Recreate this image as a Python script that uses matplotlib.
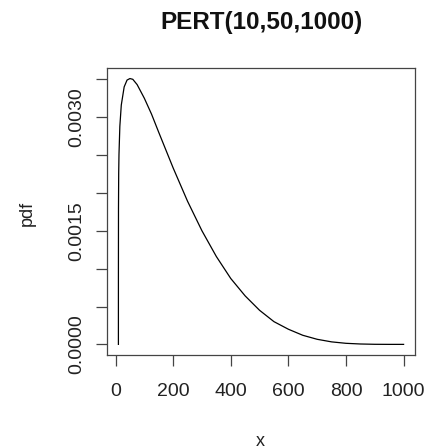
import matplotlib
matplotlib.use("Agg")
import matplotlib.pyplot as plt

plt.rcParams['font.family'] = ['Liberation Sans', 'DejaVu Sans']

# values
x_vals = [10, 10.05, 10.3, 11, 12, 15, 20, 30, 40, 50, 60, 75, 100, 125, 150,
          200, 250, 300, 350, 400, 450, 500, 550, 600, 650, 700, 750, 800,
          850, 900, 950, 1000]
pdf_vals = [0.0, 0.0009, 0.0018, 0.00226, 0.00251, 0.00288, 0.00316, 0.00340,
            0.00349, 0.00351, 0.00350, 0.00343, 0.00325, 0.00304, 0.00280,
            0.00233, 0.00189, 0.00150, 0.00116, 0.00087, 0.00064, 0.00045,
            0.00030, 0.00020, 0.00012, 0.000067, 0.000033, 0.000014,
            0.000005, 0.000001, 0.0, 0.0]

x_ticks = [0, 200, 400, 600, 800, 1000]
x_ticklabels = ["0", "200", "400", "600", "800", "1000"]
y_ticks = [0.0, 0.0005, 0.0010, 0.0015, 0.0020, 0.0025, 0.0030, 0.0035]
y_ticklabels = ["0.0000", "", "", "0.0015", "", "", "0.0030", ""]

title = "PERT(10,50,1000)"

W, H = 426, 448
fig = plt.figure(figsize=(W / 100, H / 100), dpi=100)
L, R, T, B = 107, 415, 68, 355
ax = fig.add_axes([L / W, 1 - B / H, (R - L) / W, (B - T) / H])

ax.plot(x_vals, pdf_vals, color='black', lw=0.9)

xr = 1000 - 10
ax.set_xlim(10 - 0.04 * xr, 1000 + 0.04 * xr)
yr = 0.003509
ax.set_ylim(-0.04 * yr, yr * 1.04)

ax.set_xticks(x_ticks)
ax.set_xticklabels(x_ticklabels, fontsize=14, color='#222222')
ax.set_yticks(y_ticks)
ax.set_yticklabels(y_ticklabels, fontsize=14, color='#222222', rotation=90,
                   va='center')
ax.tick_params(axis='both', direction='out', length=8, width=0.9,
               color='#444444')
ax.tick_params(axis='x', pad=12)
ax.tick_params(axis='y', pad=8)

for s in ax.spines.values():
    s.set_color('#444444')
    s.set_linewidth(0.9)

fig.text((L + R) / 2 / W, 1 - 23 / H, title, ha='center', va='center',
         fontsize=17.5, fontweight='bold', color='#111111')
fig.text(27 / W, 1 - 213 / H, "pdf", ha='center', va='center', rotation=90,
         fontsize=13, color='#222222')
fig.text(260 / W, 1 - 441 / H, "x", ha='center', va='center',
         fontsize=13, color='#222222')

fig.savefig("out.png", dpi=100)
